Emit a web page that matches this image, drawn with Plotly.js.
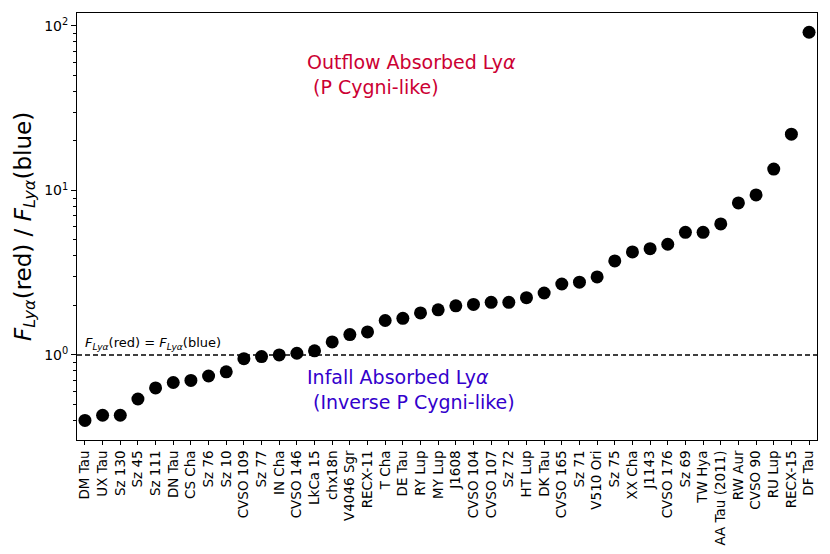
<!DOCTYPE html>
<html>
<head>
<meta charset="utf-8">
<script src="https://cdn.plot.ly/plotly-3.0.1.min.js"></script>
<style>
  body { margin: 0; background: #fff; }
  #chart { width: 830px; height: 554px; }
</style>
</head>
<body>
<div id="chart"></div>
<script>
// star names, sorted by red/blue Ly-alpha flux ratio
var stars = ["DM Tau", "UX Tau", "Sz 130", "Sz 45", "Sz 111", "DN Tau", "CS Cha", "Sz 76", "Sz 10",
    "CVSO 109", "Sz 77", "IN Cha", "CVSO 146", "LkCa 15", "chx18n", "V4046 Sgr", "RECX-11", "T Cha",
    "DE Tau", "RY Lup", "MY Lup", "J1608", "CVSO 104", "CVSO 107", "Sz 72", "HT Lup", "DK Tau",
    "CVSO 165", "Sz 71", "V510 Ori", "Sz 75", "XX Cha", "J1143", "CVSO 176", "Sz 69", "TW Hya",
    "AA Tau (2011)", "RW Aur", "CVSO 90", "RU Lup", "RECX-15", "DF Tau"];

var ratio = [0.40, 0.43, 0.43, 0.54, 0.63, 0.68, 0.70, 0.745, 0.79,
    0.95, 0.977, 1.0, 1.024, 1.06, 1.20, 1.33, 1.38, 1.62,
    1.67, 1.80, 1.88, 1.99, 2.03, 2.09, 2.09, 2.23, 2.38,
    2.70, 2.77, 2.98, 3.73, 4.23, 4.43, 4.71, 5.57, 5.57,
    6.26, 8.4, 9.4, 13.5, 22.0, 91.6];

var yTicks = [1, 10, 100];
var yTickText = ["10<sup>0</sup>", "10<sup>1</sup>", "10<sup>2</sup>"];
var yMinor = [0.3, 0.4, 0.5, 0.6, 0.7, 0.8, 0.9, 2, 3, 4, 5, 6, 7, 8, 9, 20, 30, 40, 50, 60, 70, 80, 90];

var xIdx = stars.map(function (s, i) { return i; });

var points = {
    x: xIdx,
    y: ratio,
    mode: 'markers',
    type: 'scatter',
    marker: { color: 'black', size: 13 },
    hoverinfo: 'text',
    text: stars
};

var flux = '<i>F<sub>Lyα</sub></i>';

var layout = {
    width: 830,
    height: 554,
    margin: { l: 77, r: 13, t: 13, b: 114 },
    paper_bgcolor: 'white',
    plot_bgcolor: 'white',
    showlegend: false,
    font: { family: 'DejaVu Sans', color: 'black', size: 13 },
    xaxis: {
        range: [-0.45, 41.45],
        tickvals: xIdx,
        ticktext: stars,
        tickangle: -90,
        ticks: 'outside',
        ticklen: 4,
        tickcolor: 'black',
        showgrid: false,
        zeroline: false,
        showline: true,
        linecolor: 'black',
        linewidth: 1,
        mirror: true,
        tickfont: { size: 13.5 }
    },
    yaxis: {
        type: 'log',
        range: [-0.517, 2.079],
        tickvals: yTicks,
        ticktext: yTickText,
        ticks: 'outside',
        ticklen: 5,
        tickcolor: 'black',
        minor: { tickvals: yMinor, ticks: 'outside', ticklen: 3, tickcolor: 'black', showgrid: false },
        showgrid: false,
        zeroline: false,
        showline: true,
        linecolor: 'black',
        linewidth: 1,
        mirror: true,
        tickfont: { size: 14 },
        title: {
            text: flux + '(red) / ' + flux + '(blue)',
            font: { size: 23 },
            standoff: 6
        }
    },
    shapes: [{
        type: 'line',
        xref: 'paper', x0: 0, x1: 1,
        yref: 'y', y0: 1, y1: 1,
        line: { color: 'black', width: 1.5, dash: '5px,3px' }
    }],
    annotations: [{
        xref: 'x', yref: 'y',
        x: 0, y: 0,
        xanchor: 'left', yanchor: 'bottom',
        xshift: -2, yshift: 1,
        text: flux + '(red) = ' + flux + '(blue)',
        showarrow: false,
        font: { size: 13 }
    }, {
        xref: 'paper', yref: 'paper',
        x: 0.308, y: 0.915,
        xanchor: 'left', yanchor: 'top',
        align: 'left',
        text: 'Outflow Absorbed Ly<i>α</i><br> (P Cygni-like)',
        showarrow: false,
        font: { size: 19, color: '#cc0033' }
    }, {
        xref: 'paper', yref: 'paper',
        x: 0.308, y: 0.178,
        xanchor: 'left', yanchor: 'top',
        align: 'left',
        text: 'Infall Absorbed Ly<i>α</i><br> (Inverse P Cygni-like)',
        showarrow: false,
        font: { size: 19, color: '#3300cc' }
    }]
};

Plotly.newPlot('chart', [points], layout, { displayModeBar: false, staticPlot: true });
</script>
</body>
</html>
